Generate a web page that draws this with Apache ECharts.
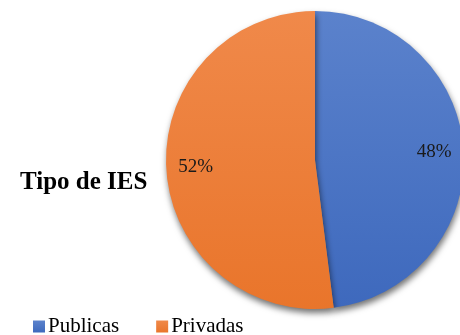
<!DOCTYPE html>
<html>
<head>
<meta charset="utf-8">
<script src="https://cdn.jsdelivr.net/npm/echarts@6/dist/echarts.min.js"></script>
<style>
  html, body { margin: 0; padding: 0; background: #fff; }
  #chart { width: 460px; height: 335px; }
</style>
</head>
<body>
<div id="chart"></div>
<script>
// Share of institutions by type
const categories = ['Publicas', 'Privadas'];
const shares = [48, 52];
const chartTitle = 'Tipo de IES';

const sliceColors = [
  { top: '#5b82cc', bottom: '#3e69bd' },
  { top: '#f0894a', bottom: '#e9752b' }
];

const serif = '"Liberation Serif", "Times New Roman", serif';

function gradient(c) {
  return new echarts.graphic.LinearGradient(0, 0, 0, 1, [
    { offset: 0, color: c.top },
    { offset: 1, color: c.bottom }
  ]);
}

const pieData = categories.map((name, i) => ({
  name: name,
  value: shares[i],
  itemStyle: { color: gradient(sliceColors[i]) }
}));

const labelData = categories.map((name, i) => ({ name: name, value: shares[i] }));

const chart = echarts.init(document.getElementById('chart'), null, { renderer: 'canvas' });

const pieCenter = [315, 160];
const pieRadius = 149;

chart.setOption({
  animation: false,
  color: sliceColors.map(c => c.bottom),
  title: {
    text: chartTitle,
    left: 15,
    top: 165,
    textStyle: { fontFamily: serif, fontSize: 25, fontWeight: 'bold', color: '#000' }
  },
  legend: {
    data: categories,
    left: 33,
    top: 316,
    padding: 0,
    icon: 'rect',
    itemWidth: 12,
    itemHeight: 12,
    itemGap: 37,
    textStyle: { fontFamily: serif, fontSize: 21, color: '#000', padding: [0, 0, 0, -2] }
  },
  series: [
    {
      type: 'pie',
      center: pieCenter,
      radius: [0, pieRadius],
      startAngle: 90,
      clockwise: true,
      silent: true,
      label: { show: false },
      labelLine: { show: false },
      itemStyle: {
        borderWidth: 0,
        shadowColor: 'rgba(0,0,0,0.55)',
        shadowBlur: 6,
        shadowOffsetX: 1,
        shadowOffsetY: 4
      },
      data: pieData
    },
    {
      // transparent ring carrying the percentage labels
      type: 'pie',
      center: pieCenter,
      radius: [84, pieRadius],
      startAngle: 90,
      clockwise: true,
      silent: true,
      legendHoverLink: false,
      itemStyle: { color: 'rgba(0,0,0,0)' },
      label: {
        show: true,
        position: 'inside',
        formatter: '{c}%',
        fontFamily: serif,
        fontSize: 19,
        color: '#1a1a1a'
      },
      labelLine: { show: false },
      data: labelData
    }
  ]
});
</script>
</body>
</html>
